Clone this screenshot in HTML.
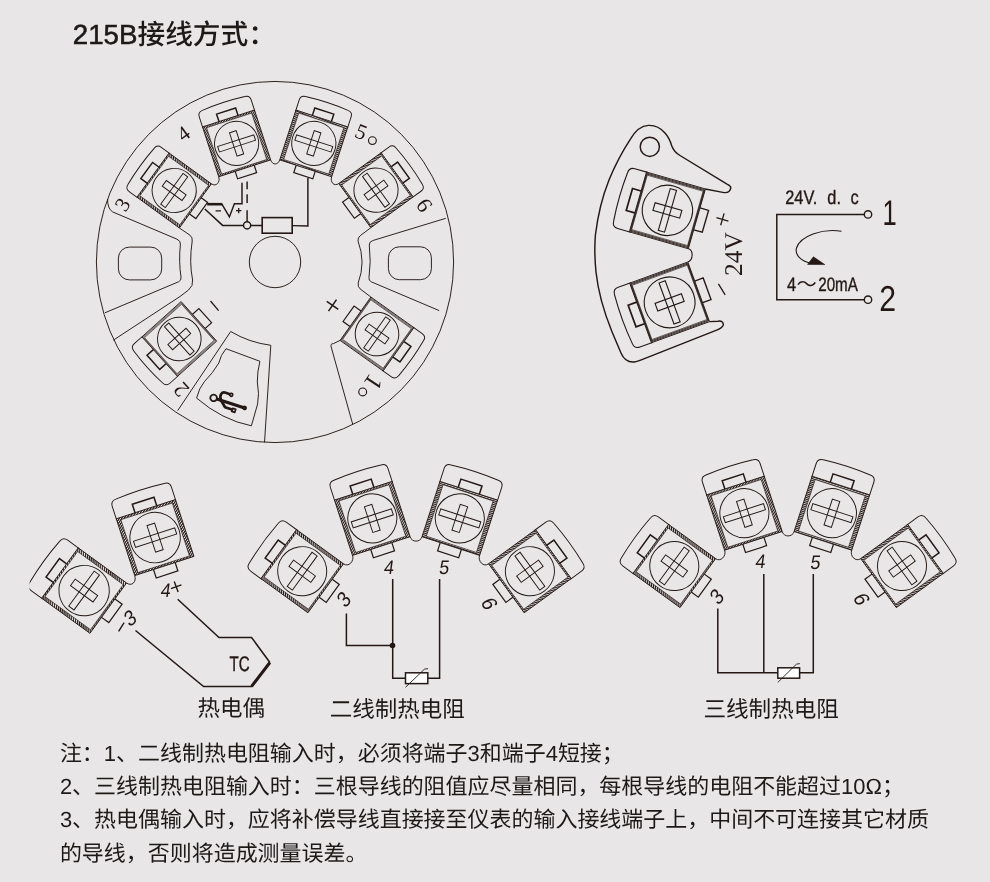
<!DOCTYPE html>
<html lang="zh-CN"><head><meta charset="utf-8"><title>215B接线方式</title>
<style>
html,body{margin:0;padding:0;background:#e8e6e7;}
body{width:990px;height:882px;overflow:hidden;position:relative;font-family:"Liberation Sans","Noto Sans CJK SC",sans-serif;}
svg{position:absolute;left:0;top:0;display:block;will-change:transform;text-rendering:geometricPrecision}
.cjk{font-family:"Liberation Sans","Noto Sans CJK SC",sans-serif;fill:#1c1917}
.ser{font-family:"Liberation Serif","Noto Serif CJK SC",serif;fill:#231815}
.san{font-family:"Liberation Sans","Noto Sans CJK SC",sans-serif;fill:#231815}
</style></head><body>
<svg width="990" height="882" viewBox="0 0 990 882">
<defs>
<pattern id="hat" patternUnits="userSpaceOnUse" width="1.8" height="1.8" patternTransform="rotate(-38)">
<rect width="1.8" height="1.05" fill="#231815"/>
</pattern>
</defs>
<rect width="990" height="882" fill="#e8e6e7"/>
<ellipse cx="275" cy="262" rx="178.6" ry="180.55" fill="none" stroke="#231815" stroke-width="0.95"/>
<circle cx="275" cy="262" r="25.7" fill="none" stroke="#231815" stroke-width="0.95"/>
<g transform="translate(174.2 190.5) rotate(-54) scale(1)" fill="none" stroke="#231815" stroke-width="0.95">
<path d="M-27.3 -25.2 L-27.3 -35.8 Q-27.3 -40.8 -22.3 -41 Q0 -43 22.3 -41 Q27.3 -40.8 27.3 -35.8 L27.3 -25.2"/>
<path d="M-27.3 -26.2H27.3V26.2H-27.3Z M-24.4 -24.7V24.7H24.4V-24.7Z" fill="url(#hat)" fill-rule="evenodd" stroke="none"/>
<rect x="-27.3" y="-26.2" width="54.6" height="52.4" stroke-width="0.85"/>
<rect x="-24.4" y="-24.7" width="48.8" height="49.4" stroke-width="0.6"/>
<circle r="22.1"/>
<rect x="-19" y="-2.85" width="38" height="5.7"/>
<rect x="-3.5" y="-12.2" width="7" height="24.4"/>
<path d="M-10.0 -26.2 V-34 H10.0 V-26.2" stroke-width="1.5"/>
<path d="M-10.0 26.2 V34 H10.0 V26.2" stroke-width="1.2"/>
</g>
<g transform="translate(236.6 143.4) rotate(-18) scale(1)" fill="none" stroke="#231815" stroke-width="0.95">
<path d="M-27.3 -25.2 L-27.3 -36.8 Q-27.3 -41.8 -22.3 -42 Q0 -44 22.3 -42 Q27.3 -41.8 27.3 -36.8 L27.3 -25.2"/>
<path d="M-27.3 -26.2H27.3V26.2H-27.3Z M-23.7 -24.2V24.6H23.7V-24.2Z" fill="url(#hat)" fill-rule="evenodd" stroke="none"/>
<rect x="-27.3" y="-26.2" width="54.6" height="52.4" stroke-width="0.85"/>
<rect x="-23.7" y="-24.2" width="47.4" height="48.8" stroke-width="0.6"/>
<circle r="22.1"/>
<rect x="-19" y="-2.85" width="38" height="5.7"/>
<rect x="-3.5" y="-12.2" width="7" height="24.4"/>
<path d="M-10.0 -26.2 V-34 H10.0 V-26.2" stroke-width="1.5"/>
<path d="M-10.0 26.2 V34 H10.0 V26.2" stroke-width="1.2"/>
</g>
<g transform="translate(313.8 143.4) rotate(18) scale(1)" fill="none" stroke="#231815" stroke-width="0.95">
<path d="M-27.3 -25.2 L-27.3 -36.8 Q-27.3 -41.8 -22.3 -42 Q0 -44 22.3 -42 Q27.3 -41.8 27.3 -36.8 L27.3 -25.2"/>
<path d="M-27.3 -26.2H27.3V26.2H-27.3Z M-23.7 -24.2V24.6H23.7V-24.2Z" fill="url(#hat)" fill-rule="evenodd" stroke="none"/>
<rect x="-27.3" y="-26.2" width="54.6" height="52.4" stroke-width="0.85"/>
<rect x="-23.7" y="-24.2" width="47.4" height="48.8" stroke-width="0.6"/>
<circle r="22.1"/>
<rect x="-19" y="-2.85" width="38" height="5.7"/>
<rect x="-3.5" y="-12.2" width="7" height="24.4"/>
<path d="M-10.0 -26.2 V-34 H10.0 V-26.2" stroke-width="1.5"/>
<path d="M-10.0 26.2 V34 H10.0 V26.2" stroke-width="1.2"/>
</g>
<g transform="translate(376 190.2) rotate(54) scale(1)" fill="none" stroke="#231815" stroke-width="0.95">
<path d="M-27.3 -25.2 L-27.3 -35.8 Q-27.3 -40.8 -22.3 -41 Q0 -43 22.3 -41 Q27.3 -40.8 27.3 -35.8 L27.3 -25.2"/>
<path d="M-27.3 -26.2H27.3V26.2H-27.3Z M-24.4 -24.7V24.7H24.4V-24.7Z" fill="url(#hat)" fill-rule="evenodd" stroke="none"/>
<rect x="-27.3" y="-26.2" width="54.6" height="52.4" stroke-width="0.85"/>
<rect x="-24.4" y="-24.7" width="48.8" height="49.4" stroke-width="0.6"/>
<circle r="22.1"/>
<rect x="-19" y="-2.85" width="38" height="5.7"/>
<rect x="-3.5" y="-12.2" width="7" height="24.4"/>
<path d="M-10.0 -26.2 V-34 H10.0 V-26.2" stroke-width="1.5"/>
<path d="M-10.0 26.2 V34 H10.0 V26.2" stroke-width="1.2"/>
</g>
<g transform="translate(179.3 339) rotate(-132) scale(1)" fill="none" stroke="#231815" stroke-width="0.95">
<path d="M-26.6 -25.4 L-26.6 -36.6 Q-26.6 -41.6 -21.6 -41.8 Q0 -43.8 21.6 -41.8 Q26.6 -41.6 26.6 -36.6 L26.6 -25.4"/>
<rect x="-25.83" y="-25.9" width="51.67" height="51.8" stroke-width="0.5"/>
<rect x="-25.07" y="-25.4" width="50.13" height="50.8" stroke-width="0.5"/>
<rect x="-26.6" y="-26.4" width="53.2" height="52.8" stroke-width="0.85"/>
<rect x="-24.3" y="-24.9" width="48.6" height="49.8" stroke-width="0.6"/>
<circle r="21.8"/>
<rect x="-19" y="-2.85" width="38" height="5.7"/>
<rect x="-3.5" y="-12.2" width="7" height="24.4"/>
<path d="M-9.5 -26.4 V-34.9 H9.5 V-26.4" stroke-width="1.5"/>
<path d="M-9.5 26.4 V34.9 H9.5 V26.4" stroke-width="1.2"/>
</g>
<g transform="translate(377 334) rotate(125.4) scale(1)" fill="none" stroke="#231815" stroke-width="0.95">
<path d="M-26.6 -25.4 L-26.6 -36.6 Q-26.6 -41.6 -21.6 -41.8 Q0 -43.8 21.6 -41.8 Q26.6 -41.6 26.6 -36.6 L26.6 -25.4"/>
<rect x="-25.83" y="-25.9" width="51.67" height="51.8" stroke-width="0.5"/>
<rect x="-25.07" y="-25.4" width="50.13" height="50.8" stroke-width="0.5"/>
<rect x="-26.6" y="-26.4" width="53.2" height="52.8" stroke-width="0.85"/>
<rect x="-24.3" y="-24.9" width="48.6" height="49.8" stroke-width="0.6"/>
<circle r="21.8"/>
<rect x="-19" y="-2.85" width="38" height="5.7"/>
<rect x="-3.5" y="-12.2" width="7" height="24.4"/>
<path d="M-9.5 -26.4 V-34.9 H9.5 V-26.4" stroke-width="1.5"/>
<path d="M-9.5 26.4 V34.9 H9.5 V26.4" stroke-width="1.2"/>
</g>
<path d="M211.44 183.81 C216.08 187.18 220.5 182.21 218.73 176.75" fill="none" stroke="#231815" stroke-width="0.95"/>
<path d="M270.66 159.88 C272.43 165.33 277.97 165.33 279.74 159.88" fill="none" stroke="#231815" stroke-width="0.95"/>
<path d="M331.67 176.75 C329.9 182.21 334.12 186.88 338.76 183.51" fill="none" stroke="#231815" stroke-width="0.95"/>
<rect x="118.4" y="247.1" width="43.3" height="32.8" rx="11" fill="none" stroke="#231815" stroke-width="0.95"/>
<rect x="388.4" y="246.8" width="43" height="32.9" rx="11" fill="none" stroke="#231815" stroke-width="0.95"/>
<path d="M107.6 199 Q107.4 208.6 112.6 211.9 L177 239.2 Q180.6 240.8 180.4 244 Q178.6 262 181 277 Q181.6 280.6 178.5 281.8 L104.9 312.8" fill="none" stroke="#231815" stroke-width="0.95" />
<path d="M445.8 218.3 L372.6 240.6 Q369 241.8 369.3 245 Q371.2 262 369 277.5 Q368.4 280.6 371.4 281.9 L439.2 310.6" fill="none" stroke="#231815" stroke-width="0.95" />
<path d="M179.35 227.99 L190 235.2 Q192.8 237.6 192.2 241 Q189 262 192.6 280 Q193.4 286 188.5 290 Q184 293.5 180 296.5 L113.3 340.2" fill="none" stroke="#231815" stroke-width="0.95" />
<path d="M370.85 227.69 L360.3 235.6 Q357.6 237.8 358 241 Q366 262 358.2 283 Q357.6 286.6 360 288.8 L370.89 297.02" fill="none" stroke="#231815" stroke-width="0.95" />
<path d="M340.07 340.39 L333.5 343.6 Q330.2 343.4 331.2 347 L352.7 424.2" fill="none" stroke="#231815" stroke-width="0.95" />
<path d="M177.7 410.6 L230.7 331.5 Q249 342.5 270.8 345.3 L264.5 442.4" fill="none" stroke="#231815" stroke-width="0.95" />
<path d="M226 348.7 L259.9 361.3 Q257.2 372 257.3 382 Q259.6 394 257.6 404 L251.4 425.8 Q222 420 196.6 398.1 Q199 388 204.5 381.5 Q213 373 218.8 363 Q220.6 355 226 348.7Z" fill="none" stroke="#231815" stroke-width="0.95" />
<path d="M242 182.7 V203.7 H234.4 L229.4 216.9 L221.9 204.1" fill="none" stroke="#231815" stroke-width="1.45" stroke-linejoin="miter"/>
<path d="M222.4 204.2 H207.2" fill="none" stroke="#231815" stroke-width="2.6" />
<path d="M204.8 209 L222.6 225.4 H243" fill="none" stroke="#231815" stroke-width="1.45" />
<circle cx="247.1" cy="225.3" r="3.6" fill="none" stroke="#231815" stroke-width="1.45"/>
<path d="M247.1 221.6 V210.3 M247.1 203.1 V194.2 M247.1 189.3 V181.4" fill="none" stroke="#231815" stroke-width="1.45" />
<path d="M250.8 225.4 H262.2 M292.2 225.6 L307.9 226 V178.1" fill="none" stroke="#231815" stroke-width="1.45" />
<rect x="262.2" y="217.6" width="30" height="15.6" fill="none" stroke="#231815" stroke-width="1.6"/>
<path d="M215.6 210.8 H221 M236 210.6 H241.4 M238.7 207.9 V213.3" fill="none" stroke="#231815" stroke-width="1.3" />
<text class="ser" font-size="21" text-anchor="middle" transform="translate(122.4 204.6) rotate(-57)" y="7.04" >3</text>
<text class="ser" font-size="21" text-anchor="middle" transform="translate(183.4 133.4) rotate(-36)" y="7.04" >4</text>
<text class="ser" font-size="21.5" text-anchor="middle" transform="translate(361.1 131.8) rotate(22)" y="7.2" >5</text>
<circle cx="372.4" cy="140.6" r="3.9" fill="none" stroke="#231815" stroke-width="1.15"/>
<text class="ser" font-size="22" text-anchor="middle" transform="translate(424.4 205.2) rotate(57)" y="7.37" >6</text>
<text class="ser" font-size="22" text-anchor="middle" transform="translate(181 389.6) rotate(-132)" y="7.37" >2</text>
<text class="ser" font-size="25" text-anchor="middle" transform="translate(373.8 382.4) rotate(124)" y="8.38" >1</text>
<circle cx="362.7" cy="391.9" r="3.9" fill="none" stroke="#231815" stroke-width="1.15"/>
<path d="M210.5 301 L218.6 310.7" fill="none" stroke="#231815" stroke-width="1.3" />
<g transform="translate(332.5 305.4) rotate(35)"><path d="M-7 0H7M0 -7V7" stroke="#231815" stroke-width="1.5" fill="none"/></g>
<g transform="translate(213.6 397.9) rotate(18)" fill="none" stroke="#231815" stroke-width="2.7" stroke-linecap="round" stroke-linejoin="round">
<circle r="3.3" stroke-width="1.8"/>
<path d="M4.2 0 H31" stroke-width="3.1"/>
<path d="M7.4 -0.6 C4.6 -4.6 5.6 -8.6 10 -8.6 H13.6"/>
<circle cx="15.8" cy="-8.4" r="1.5" stroke-width="1.7"/>
<path d="M8.4 0.6 L13.8 5.3 H21"/>
<rect x="21.4" y="4" width="3.2" height="3.2" stroke-width="1.7"/>
<circle cx="32.6" cy="0" r="1.7" fill="#231815" stroke-width="1.2"/>
</g>
<g transform="translate(667.4 210.4) rotate(-74) scale(1.14)" fill="none" stroke="#231815" stroke-width="0.97">
<path d="M-27.3 -25.9 L-27.3 -37.5 Q-27.3 -42.5 -22.3 -42.7 Q0 -44.7 22.3 -42.7 Q27.3 -42.5 27.3 -37.5 L27.3 -25.9"/>
<rect x="-26.47" y="-26.43" width="52.93" height="52.87" stroke-width="0.7"/>
<rect x="-25.63" y="-25.97" width="51.27" height="51.93" stroke-width="0.7"/>
<rect x="-27.3" y="-26.9" width="54.6" height="53.8" stroke-width="0.75"/>
<rect x="-24.8" y="-25.5" width="49.6" height="51" stroke-width="0.53"/>
<circle r="22.1"/>
<rect x="-19" y="-2.85" width="38" height="5.7"/>
<rect x="-3.5" y="-12.2" width="7" height="24.4"/>
<path d="M-10.0 -26.9 V-34.7 H10.0 V-26.9" stroke-width="1.5"/>
<path d="M-10.0 26.9 V34.7 H10.0 V26.9" stroke-width="1.2"/>
</g>
<g transform="translate(669.6 302.4) rotate(-110) scale(1.15)" fill="none" stroke="#231815" stroke-width="0.96">
<path d="M-27.6 -25.9 L-27.6 -37.5 Q-27.6 -42.5 -22.6 -42.7 Q0 -44.7 22.6 -42.7 Q27.6 -42.5 27.6 -37.5 L27.6 -25.9"/>
<rect x="-26.77" y="-26.43" width="53.53" height="52.87" stroke-width="0.7"/>
<rect x="-25.93" y="-25.97" width="51.87" height="51.93" stroke-width="0.7"/>
<rect x="-27.6" y="-26.9" width="55.2" height="53.8" stroke-width="0.74"/>
<rect x="-25.1" y="-25.5" width="50.2" height="51" stroke-width="0.52"/>
<circle r="22.1"/>
<rect x="-19" y="-2.85" width="38" height="5.7"/>
<rect x="-3.5" y="-12.2" width="7" height="24.4"/>
<path d="M-10.0 -26.9 V-34.7 H10.0 V-26.9" stroke-width="1.48"/>
<path d="M-10.0 26.9 V34.7 H10.0 V26.9" stroke-width="1.18"/>
</g>
<path d="M688.21 248.6 C693.71 250.4 693.31 260.19 687.81 261.99" fill="none" stroke="#231815" stroke-width="1.1" />
<path d="M705.29 189.03 L724.1 192.6 Q730 193 730.8 187.8 Q730.6 185.6 727.4 184.3 L680 155.5 Q674 152 671.8 146 Q669.5 138 665 133 Q658 125 648.5 125.4 Q638 126 630.4 139.1 Q618 158 609 180 Q599 205 595.4 235 Q594 252 596 272 Q599 300 612.1 332 L621 353 Q625 362.6 634 362 Q637 361.6 640 360.4 L716 330.4 Q722.6 328 723.4 324.6 Q723 320.4 718 321.2 L709.53 321.65" fill="none" stroke="#231815" stroke-width="1.45" />
<circle cx="649.8" cy="146.8" r="9.6" fill="none" stroke="#231815" stroke-width="1.45"/>
<text class="ser" font-size="25.5" transform="translate(742.4 276) rotate(-90)">24V</text>
<g transform="translate(722.4 219.3) rotate(16)"><path d="M-6.2 0H6.2M0 -6.2V6.2" stroke="#231815" stroke-width="1.3" fill="none"/></g>
<path d="M718.4 283.9 L725.2 294.8" fill="none" stroke="#231815" stroke-width="1.3" />
<path d="M864.2 214.4 H776.8 V299.7 H864.2" fill="none" stroke="#231815" stroke-width="1.5" />
<circle cx="868" cy="214.4" r="3.7" fill="none" stroke="#231815" stroke-width="1.4"/>
<circle cx="868" cy="299.7" r="3.7" fill="none" stroke="#231815" stroke-width="1.4"/>
<text class="san" font-size="19.5" text-anchor="start" transform="translate(785.2 204) scale(0.84 1)" stroke="#231815" stroke-width="0.35">24V.</text>
<text class="san" font-size="19.5" text-anchor="start" transform="translate(827.3 204) scale(0.84 1)" stroke="#231815" stroke-width="0.35">d.</text>
<text class="san" font-size="19.5" text-anchor="start" transform="translate(850.4 204) scale(0.84 1)" stroke="#231815" stroke-width="0.35">c</text>
<text class="san" font-size="19.5" text-anchor="start" transform="translate(787 291.4) scale(0.84 1)" stroke="#231815" stroke-width="0.35">4</text>
<text class="san" font-size="19.5" text-anchor="start" transform="translate(796.6 291.4) scale(1.04 1)" >～</text>
<text class="san" font-size="19.5" text-anchor="start" transform="translate(818.2 291.4) scale(0.78 1)" stroke="#231815" stroke-width="0.35">20mA</text>
<text class="san" font-size="35.5" text-anchor="start" transform="translate(882.6 225.4) scale(0.72 1)" >1</text>
<text class="san" font-size="36" text-anchor="start" transform="translate(879.3 311.2) scale(0.84 1)" >2</text>
<path d="M841.5 231.2 C822 228 800 236 796.5 248 C794.5 255 801 261 811 263.5" fill="none" stroke="#231815" stroke-width="1.1" />
<path d="M824.8 264.6 L807.6 264.4 L813.4 256.8 Z" fill="#231815" stroke="#231815" stroke-width="0.6" />
<g transform="translate(302.2 571.2) rotate(-54) scale(1.11)" fill="none" stroke="#231815" stroke-width="0.86">
<path d="M-27.3 -25.2 L-27.3 -37.6 Q-27.3 -42.6 -22.3 -42.8 Q0 -44.8 22.3 -42.8 Q27.3 -42.6 27.3 -37.6 L27.3 -25.2"/>
<path d="M-27.3 -26.2H27.3V26.2H-27.3Z M-24.4 -24.7V24.7H24.4V-24.7Z" fill="url(#hat)" fill-rule="evenodd" stroke="none"/>
<rect x="-27.3" y="-26.2" width="54.6" height="52.4" stroke-width="0.77"/>
<rect x="-24.4" y="-24.7" width="48.8" height="49.4" stroke-width="0.54"/>
<circle r="22.1"/>
<rect x="-19" y="-2.85" width="38" height="5.7"/>
<rect x="-3.5" y="-12.2" width="7" height="24.4"/>
<path d="M-10.0 -26.2 V-34 H10.0 V-26.2" stroke-width="1.36"/>
<path d="M-10.0 26.2 V34 H10.0 V26.2" stroke-width="1.08"/>
</g>
<g transform="translate(372.3 518.4) rotate(-18) scale(1.11)" fill="none" stroke="#231815" stroke-width="0.86">
<path d="M-27.3 -25.2 L-27.3 -38.2 Q-27.3 -43.2 -22.3 -43.4 Q0 -45.4 22.3 -43.4 Q27.3 -43.2 27.3 -38.2 L27.3 -25.2"/>
<path d="M-27.3 -26.2H27.3V26.2H-27.3Z M-23.7 -24.2V24.6H23.7V-24.2Z" fill="url(#hat)" fill-rule="evenodd" stroke="none"/>
<rect x="-27.3" y="-26.2" width="54.6" height="52.4" stroke-width="0.77"/>
<rect x="-23.7" y="-24.2" width="47.4" height="48.8" stroke-width="0.54"/>
<circle r="22.1"/>
<rect x="-19" y="-2.85" width="38" height="5.7"/>
<rect x="-3.5" y="-12.2" width="7" height="24.4"/>
<path d="M-10.0 -26.2 V-34 H10.0 V-26.2" stroke-width="1.36"/>
<path d="M-10.0 26.2 V34 H10.0 V26.2" stroke-width="1.08"/>
</g>
<g transform="translate(459.8 518.4) rotate(18) scale(1.11)" fill="none" stroke="#231815" stroke-width="0.86">
<path d="M-27.3 -25.2 L-27.3 -38.2 Q-27.3 -43.2 -22.3 -43.4 Q0 -45.4 22.3 -43.4 Q27.3 -43.2 27.3 -38.2 L27.3 -25.2"/>
<path d="M-27.3 -26.2H27.3V26.2H-27.3Z M-23.7 -24.2V24.6H23.7V-24.2Z" fill="url(#hat)" fill-rule="evenodd" stroke="none"/>
<rect x="-27.3" y="-26.2" width="54.6" height="52.4" stroke-width="0.77"/>
<rect x="-23.7" y="-24.2" width="47.4" height="48.8" stroke-width="0.54"/>
<circle r="22.1"/>
<rect x="-19" y="-2.85" width="38" height="5.7"/>
<rect x="-3.5" y="-12.2" width="7" height="24.4"/>
<path d="M-10.0 -26.2 V-34 H10.0 V-26.2" stroke-width="1.36"/>
<path d="M-10.0 26.2 V34 H10.0 V26.2" stroke-width="1.08"/>
</g>
<g transform="translate(529.9 571.2) rotate(54) scale(1.11)" fill="none" stroke="#231815" stroke-width="0.86">
<path d="M-27.3 -25.2 L-27.3 -37.6 Q-27.3 -42.6 -22.3 -42.8 Q0 -44.8 22.3 -42.8 Q27.3 -42.6 27.3 -37.6 L27.3 -25.2"/>
<path d="M-27.3 -26.2H27.3V26.2H-27.3Z M-24.4 -24.7V24.7H24.4V-24.7Z" fill="url(#hat)" fill-rule="evenodd" stroke="none"/>
<rect x="-27.3" y="-26.2" width="54.6" height="52.4" stroke-width="0.77"/>
<rect x="-24.4" y="-24.7" width="48.8" height="49.4" stroke-width="0.54"/>
<circle r="22.1"/>
<rect x="-19" y="-2.85" width="38" height="5.7"/>
<rect x="-3.5" y="-12.2" width="7" height="24.4"/>
<path d="M-10.0 -26.2 V-34 H10.0 V-26.2" stroke-width="1.36"/>
<path d="M-10.0 26.2 V34 H10.0 V26.2" stroke-width="1.08"/>
</g>
<path d="M343.39 563.81 C348.52 567.53 354.5 561.32 352.54 555.29" fill="none" stroke="#231815" stroke-width="0.95"/>
<path d="M409.97 536.63 C411.93 542.66 420.17 542.66 422.13 536.63" fill="none" stroke="#231815" stroke-width="0.95"/>
<path d="M479.56 555.29 C477.6 561.32 483.58 567.53 488.71 563.81" fill="none" stroke="#231815" stroke-width="0.95"/>
<g transform="translate(674.3 566) rotate(-54) scale(1.11)" fill="none" stroke="#231815" stroke-width="0.86">
<path d="M-27.3 -25.2 L-27.3 -37.6 Q-27.3 -42.6 -22.3 -42.8 Q0 -44.8 22.3 -42.8 Q27.3 -42.6 27.3 -37.6 L27.3 -25.2"/>
<path d="M-27.3 -26.2H27.3V26.2H-27.3Z M-24.4 -24.7V24.7H24.4V-24.7Z" fill="url(#hat)" fill-rule="evenodd" stroke="none"/>
<rect x="-27.3" y="-26.2" width="54.6" height="52.4" stroke-width="0.77"/>
<rect x="-24.4" y="-24.7" width="48.8" height="49.4" stroke-width="0.54"/>
<circle r="22.1"/>
<rect x="-19" y="-2.85" width="38" height="5.7"/>
<rect x="-3.5" y="-12.2" width="7" height="24.4"/>
<path d="M-10.0 -26.2 V-34 H10.0 V-26.2" stroke-width="1.36"/>
<path d="M-10.0 26.2 V34 H10.0 V26.2" stroke-width="1.08"/>
</g>
<g transform="translate(744.4 513.2) rotate(-18) scale(1.11)" fill="none" stroke="#231815" stroke-width="0.86">
<path d="M-27.3 -25.2 L-27.3 -38.2 Q-27.3 -43.2 -22.3 -43.4 Q0 -45.4 22.3 -43.4 Q27.3 -43.2 27.3 -38.2 L27.3 -25.2"/>
<path d="M-27.3 -26.2H27.3V26.2H-27.3Z M-23.7 -24.2V24.6H23.7V-24.2Z" fill="url(#hat)" fill-rule="evenodd" stroke="none"/>
<rect x="-27.3" y="-26.2" width="54.6" height="52.4" stroke-width="0.77"/>
<rect x="-23.7" y="-24.2" width="47.4" height="48.8" stroke-width="0.54"/>
<circle r="22.1"/>
<rect x="-19" y="-2.85" width="38" height="5.7"/>
<rect x="-3.5" y="-12.2" width="7" height="24.4"/>
<path d="M-10.0 -26.2 V-34 H10.0 V-26.2" stroke-width="1.36"/>
<path d="M-10.0 26.2 V34 H10.0 V26.2" stroke-width="1.08"/>
</g>
<g transform="translate(831.9 513.2) rotate(18) scale(1.11)" fill="none" stroke="#231815" stroke-width="0.86">
<path d="M-27.3 -25.2 L-27.3 -38.2 Q-27.3 -43.2 -22.3 -43.4 Q0 -45.4 22.3 -43.4 Q27.3 -43.2 27.3 -38.2 L27.3 -25.2"/>
<path d="M-27.3 -26.2H27.3V26.2H-27.3Z M-23.7 -24.2V24.6H23.7V-24.2Z" fill="url(#hat)" fill-rule="evenodd" stroke="none"/>
<rect x="-27.3" y="-26.2" width="54.6" height="52.4" stroke-width="0.77"/>
<rect x="-23.7" y="-24.2" width="47.4" height="48.8" stroke-width="0.54"/>
<circle r="22.1"/>
<rect x="-19" y="-2.85" width="38" height="5.7"/>
<rect x="-3.5" y="-12.2" width="7" height="24.4"/>
<path d="M-10.0 -26.2 V-34 H10.0 V-26.2" stroke-width="1.36"/>
<path d="M-10.0 26.2 V34 H10.0 V26.2" stroke-width="1.08"/>
</g>
<g transform="translate(902 566) rotate(54) scale(1.11)" fill="none" stroke="#231815" stroke-width="0.86">
<path d="M-27.3 -25.2 L-27.3 -37.6 Q-27.3 -42.6 -22.3 -42.8 Q0 -44.8 22.3 -42.8 Q27.3 -42.6 27.3 -37.6 L27.3 -25.2"/>
<path d="M-27.3 -26.2H27.3V26.2H-27.3Z M-24.4 -24.7V24.7H24.4V-24.7Z" fill="url(#hat)" fill-rule="evenodd" stroke="none"/>
<rect x="-27.3" y="-26.2" width="54.6" height="52.4" stroke-width="0.77"/>
<rect x="-24.4" y="-24.7" width="48.8" height="49.4" stroke-width="0.54"/>
<circle r="22.1"/>
<rect x="-19" y="-2.85" width="38" height="5.7"/>
<rect x="-3.5" y="-12.2" width="7" height="24.4"/>
<path d="M-10.0 -26.2 V-34 H10.0 V-26.2" stroke-width="1.36"/>
<path d="M-10.0 26.2 V34 H10.0 V26.2" stroke-width="1.08"/>
</g>
<path d="M715.49 558.61 C720.62 562.33 726.6 556.12 724.64 550.09" fill="none" stroke="#231815" stroke-width="0.95"/>
<path d="M782.07 531.43 C784.03 537.46 792.27 537.46 794.23 531.43" fill="none" stroke="#231815" stroke-width="0.95"/>
<path d="M851.66 550.09 C849.7 556.12 855.68 562.33 860.81 558.61" fill="none" stroke="#231815" stroke-width="0.95"/>
<clipPath id="clipL"><rect x="-200" y="-200" width="400" height="400" transform="rotate(54) translate(-55 0)"/></clipPath>
<g transform="translate(84.1 590.6) rotate(-54) scale(1.14)" fill="none" stroke="#231815" stroke-width="0.83">
<path d="M-27.3 -25.2 L-27.3 -37.6 Q-27.3 -42.6 -22.3 -42.8 Q0 -44.8 22.3 -42.8 Q27.3 -42.6 27.3 -37.6 L27.3 -25.2"/>
<path d="M-27.3 -26.2H27.3V26.2H-27.3Z M-24.4 -24.7V24.7H24.4V-24.7Z" fill="url(#hat)" fill-rule="evenodd" stroke="none"/>
<rect x="-27.3" y="-26.2" width="54.6" height="52.4" stroke-width="0.75"/>
<rect x="-24.4" y="-24.7" width="48.8" height="49.4" stroke-width="0.53"/>
<circle r="22.1"/>
<rect x="-19" y="-2.85" width="38" height="5.7"/>
<rect x="-3.5" y="-12.2" width="7" height="24.4"/>
<path d="M-10.0 -26.2 V-34 H10.0 V-26.2" stroke-width="1.32"/>
<path d="M-10.0 26.2 V34 H10.0 V26.2" stroke-width="1.05"/>
</g>
<g transform="translate(155.1 537.6) rotate(-18) scale(1.14)" fill="none" stroke="#231815" stroke-width="0.83">
<path d="M-27.3 -25.2 L-27.3 -37.5 Q-27.3 -42.5 -22.3 -42.7 Q0 -44.7 22.3 -42.7 Q27.3 -42.5 27.3 -37.5 L27.3 -25.2"/>
<path d="M-27.3 -26.2H27.3V26.2H-27.3Z M-23.7 -24.2V24.6H23.7V-24.2Z" fill="url(#hat)" fill-rule="evenodd" stroke="none"/>
<rect x="-27.3" y="-26.2" width="54.6" height="52.4" stroke-width="0.75"/>
<rect x="-23.7" y="-24.2" width="47.4" height="48.8" stroke-width="0.53"/>
<circle r="22.1"/>
<rect x="-19" y="-2.85" width="38" height="5.7"/>
<rect x="-3.5" y="-12.2" width="7" height="24.4"/>
<path d="M-10.0 -26.2 V-34 H10.0 V-26.2" stroke-width="1.32"/>
<path d="M-10.0 26.2 V34 H10.0 V26.2" stroke-width="1.05"/>
</g>
<path d="M126.56 582.98 C131.84 586.82 136.75 581.84 134.73 575.62" fill="none" stroke="#231815" stroke-width="0.95"/>
<rect x="20" y="560" width="9.6" height="50" fill="#e8e6e7"/>
<path d="M177.7 599.2 L219 637.6 H251.6 L269.9 662.5" fill="none" stroke="#231815" stroke-width="1.5" stroke-linejoin="miter"/>
<path d="M269.9 662.5 L251.6 686.3" fill="none" stroke="#231815" stroke-width="3.0" />
<path d="M252.4 686.6 H203.6 L135.5 630.5" fill="none" stroke="#231815" stroke-width="1.5" />
<path d="M346.4 613.6 V645.5 H392.7 M392.7 579.1 V678.2 H405.5 M427.8 678.2 H439.6 V579.1" fill="none" stroke="#231815" stroke-width="1.5" />
<circle cx="392.5" cy="645.5" r="2.8" fill="#231815"/>
<rect x="405.5" y="672.8" width="22.3" height="10.8" fill="#fff" stroke="#231815" stroke-width="1.5"/>
<path d="M405.5 687.3 L424.5 669.1 L428 668.7" fill="none" stroke="#231815" stroke-width="0.9" />
<path d="M717.8 608.5 V672.7 H777.8 M763.8 574 V672.7 M799.6 672.7 H813.3 V574" fill="none" stroke="#231815" stroke-width="1.5" />
<rect x="777.8" y="667.8" width="21.8" height="10.4" fill="#fff" stroke="#231815" stroke-width="1.5"/>
<path d="M777.8 682.4 L796.4 664.2 L799.8 663.6" fill="none" stroke="#231815" stroke-width="0.9" />
<text class="san" font-size="19.5" text-anchor="middle" transform="translate(165.9 590.6) rotate(0) skewX(-8) scale(0.92 1)" y="6.86">4</text>
<g transform="translate(176.2 586.8) rotate(-20)"><path d="M-5.6 0H5.6M0 -5.6V5.6" stroke="#231815" stroke-width="1.4" fill="none"/></g>
<text class="san" font-size="21" text-anchor="middle" transform="translate(130 617.7) rotate(-36) skewX(-8) scale(0.92 1)" y="7.39">3</text>
<path d="M118.6 631.4 L124.1 622.7" fill="none" stroke="#231815" stroke-width="1.4" />
<text class="san" font-size="21" text-anchor="middle" transform="translate(343.8 599.1) rotate(-50) skewX(-8) scale(0.92 1)" y="7.39">3</text>
<text class="san" font-size="19.5" text-anchor="middle" transform="translate(389.1 566.8) rotate(0) skewX(-8) scale(0.92 1)" y="6.86">4</text>
<text class="san" font-size="19.5" text-anchor="middle" transform="translate(444.4 567.5) rotate(0) skewX(-8) scale(0.92 1)" y="6.86">5</text>
<text class="san" font-size="21" text-anchor="middle" transform="translate(489.6 603.6) rotate(60) skewX(-8) scale(0.92 1)" y="7.39">6</text>
<text class="san" font-size="21" text-anchor="middle" transform="translate(716.6 596.4) rotate(-50) skewX(-8) scale(0.92 1)" y="7.39">3</text>
<text class="san" font-size="19.5" text-anchor="middle" transform="translate(760.8 561.2) rotate(0) skewX(-8) scale(0.92 1)" y="6.86">4</text>
<text class="san" font-size="19.5" text-anchor="middle" transform="translate(815.6 562.5) rotate(0) skewX(-8) scale(0.92 1)" y="6.86">5</text>
<text class="san" font-size="21" text-anchor="middle" transform="translate(861.8 599.1) rotate(60) skewX(-8) scale(0.92 1)" y="7.39">6</text>
<text class="san" font-size="21" text-anchor="start" transform="translate(229.4 670.8) scale(0.72 1)" stroke="#231815" stroke-width="0.35">TC</text>
<text class="cjk" font-size="22.5" x="197.4" y="716.4" text-anchor="start" font-weight="400" letter-spacing="0">热电偶</text>
<text class="cjk" font-size="22.5" x="329.8" y="717" text-anchor="start" font-weight="400" letter-spacing="0">二线制热电阻</text>
<text class="cjk" font-size="22.6" x="703.4" y="717" text-anchor="start" font-weight="400" letter-spacing="0">三线制热电阻</text>
<text class="cjk" font-size="27.7" x="72.8" y="43.8" text-anchor="start" font-weight="500" letter-spacing="0"><tspan stroke="#1c1917" stroke-width="0.55">215B</tspan>接线方式：</text>
<text class="cjk" font-size="21.97" x="59.9" y="760.6" text-anchor="start" font-weight="400" letter-spacing="0">注：1、二线制热电阻输入时，必须将端子3和端子4短接；</text>
<text class="cjk" font-size="21.97" x="59.9" y="794" text-anchor="start" font-weight="400" letter-spacing="0">2、三线制热电阻输入时：三根导线的阻值应尽量相同，每根导线的电阻不能超过10Ω；</text>
<text class="cjk" font-size="21.97" x="59.9" y="827.4" text-anchor="start" font-weight="400" letter-spacing="0">3、热电偶输入时，应将补偿导线直接接至仪表的输入接线端子上，中间不可连接其它材质</text>
<text class="cjk" font-size="21.97" x="59.9" y="860.6" text-anchor="start" font-weight="400" letter-spacing="0">的导线，否则将造成测量误差。</text>
</svg></body></html>
